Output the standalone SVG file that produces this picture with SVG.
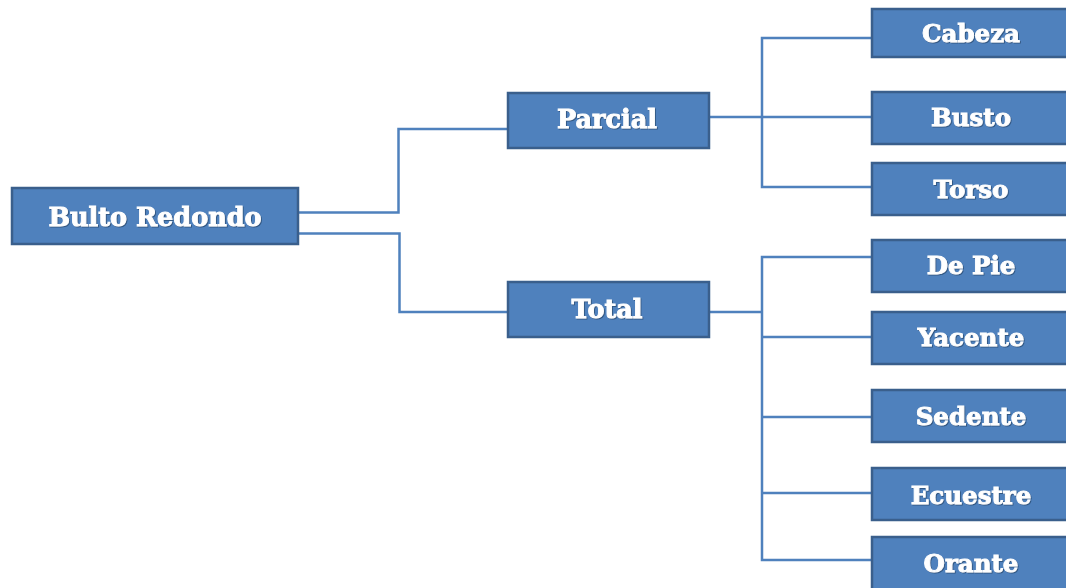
<svg xmlns="http://www.w3.org/2000/svg" width="1066" height="588" viewBox="0 0 1066 588">
<style>
.box{fill:#4F81BD;stroke:#3A5F8C;stroke-width:2.5}
.lbl{fill:#ffffff;stroke:#ffffff;stroke-width:0.9;font-family:"DejaVu Serif","Liberation Serif",serif;font-weight:bold;font-size:25.5px;text-anchor:middle;filter:url(#sh)}
.sm{font-size:24.5px}
.con{fill:none;stroke:#4F81BD;stroke-width:2.5}
</style>
<defs>
<filter id="sh" x="-10%" y="-20%" width="120%" height="140%">
<feDropShadow dx="1" dy="1" stdDeviation="0.6" flood-color="#1F3A5F" flood-opacity="0.6"/>
</filter>
</defs>
<rect width="1066" height="588" fill="#ffffff"/>
<g id="connectors">
<polyline class="con" points="298,212.5 398.5,212.5 398.5,129 508,129"/>
<polyline class="con" points="298,233.5 399.5,233.5 399.5,312 508,312"/>
<line class="con" x1="709" y1="117" x2="872" y2="117"/>
<polyline class="con" points="872,38 762,38 762,187 872,187"/>
<line class="con" x1="709" y1="312" x2="762" y2="312"/>
<polyline class="con" points="872,257 762,257 762,560 872,560"/>
<line class="con" x1="762" y1="337" x2="872" y2="337"/>
<line class="con" x1="762" y1="417" x2="872" y2="417"/>
<line class="con" x1="762" y1="493" x2="872" y2="493"/>
</g>
<g id="n-bulto"><rect class="box" x="12" y="188" width="286" height="56"/><text class="lbl" x="155" y="226">Bulto Redondo</text></g>
<g id="n-parcial"><rect class="box" x="508" y="93" width="201" height="55"/><text class="lbl" x="607" y="128">Parcial</text></g>
<g id="n-total"><rect class="box" x="508" y="282" width="201" height="55"/><text class="lbl" x="607" y="318">Total</text></g>
<g id="n-cabeza"><rect class="box" x="872" y="9" width="200" height="48"/><text class="lbl sm" x="971" y="42">Cabeza</text></g>
<g id="n-busto"><rect class="box" x="872" y="92" width="200" height="52"/><text class="lbl sm" x="971" y="126">Busto</text></g>
<g id="n-torso"><rect class="box" x="872" y="163" width="200" height="52"/><text class="lbl sm" x="971" y="198">Torso</text></g>
<g id="n-depie"><rect class="box" x="872" y="240" width="200" height="52"/><text class="lbl sm" x="971" y="274">De Pie</text></g>
<g id="n-yacente"><rect class="box" x="872" y="312" width="200" height="52"/><text class="lbl sm" x="971" y="346">Yacente</text></g>
<g id="n-sedente"><rect class="box" x="872" y="390" width="200" height="52"/><text class="lbl sm" x="971" y="425">Sedente</text></g>
<g id="n-ecuestre"><rect class="box" x="872" y="468" width="200" height="52"/><text class="lbl sm" x="971" y="504">Ecuestre</text></g>
<g id="n-orante"><rect class="box" x="872" y="537" width="200" height="60"/><text class="lbl sm" x="971" y="572">Orante</text></g>
</svg>
